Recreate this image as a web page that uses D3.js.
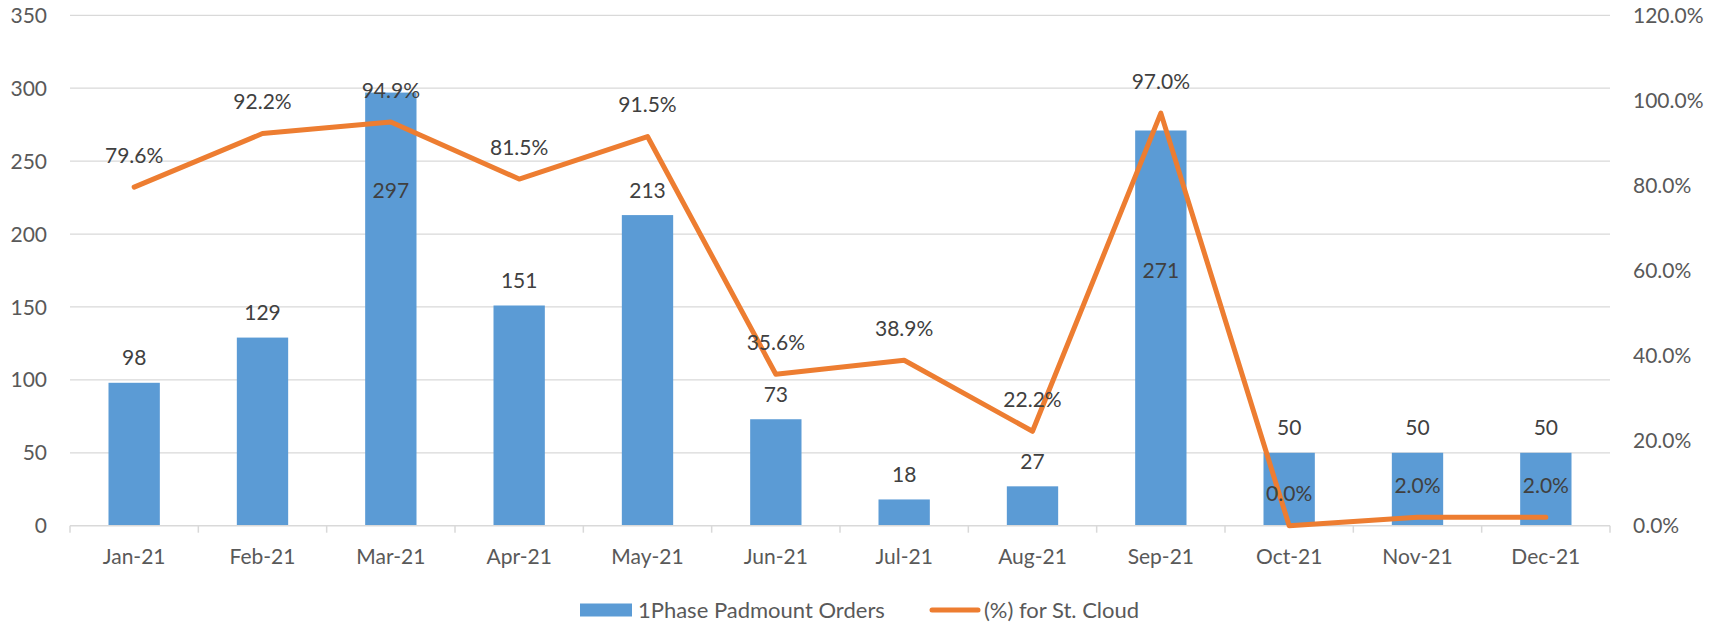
<!DOCTYPE html>
<html>
<head>
<meta charset="utf-8">
<script src="https://cdn.jsdelivr.net/npm/d3@7"></script>
<style>
  html, body { margin: 0; padding: 0; background: #fff; }
  svg { display: block; }
  text { font-family: Lato, "Open Sans", sans-serif; }
</style>
</head>
<body>
<svg id="chart" width="1721" height="623"></svg>
<script>
const categories = ["Jan-21","Feb-21","Mar-21","Apr-21","May-21","Jun-21","Jul-21","Aug-21","Sep-21","Oct-21","Nov-21","Dec-21"];
const orders = [98, 129, 297, 151, 213, 73, 18, 27, 271, 50, 50, 50];
const pctStCloud = [0.796, 0.922, 0.949, 0.815, 0.915, 0.356, 0.389, 0.222, 0.970, 0.000, 0.020, 0.020];
const leftTicks = [0, 50, 100, 150, 200, 250, 300, 350];
const rightTicks = [0, 0.2, 0.4, 0.6, 0.8, 1.0, 1.2];
const seriesNames = ["1Phase Padmount Orders", "(%) for St. Cloud"];

const W = 1721, H = 623;
const plot = { left: 70, right: 1610, top: 15.3, bottom: 525.7 };
const barColor = "#5B9BD5", lineColor = "#ED7D31";
const gridColor = "#D9D9D9", axisText = "#595959", labelText = "#404040";
const fs = 21;

const svg = d3.select("#chart");

const x = d3.scaleBand().domain(categories).range([plot.left, plot.right])
  .paddingInner(0.6).paddingOuter(0.3);
const xc = d => x(d) + x.bandwidth() / 2;
const yL = d3.scaleLinear().domain([0, 350]).range([plot.bottom, plot.top]);
const yR = d3.scaleLinear().domain([0, 1.2]).range([plot.bottom, plot.top]);

// gridlines
svg.append("g").selectAll("line").data(leftTicks.filter(t => t > 0)).join("line")
  .attr("x1", plot.left).attr("x2", plot.right)
  .attr("y1", d => yL(d)).attr("y2", d => yL(d))
  .attr("stroke", gridColor).attr("stroke-width", 1.3);

// left axis labels
svg.append("g").selectAll("text").data(leftTicks).join("text")
  .attr("x", 47).attr("y", d => yL(d)).attr("dy", "0.36em")
  .attr("text-anchor", "end").attr("font-size", fs).attr("fill", axisText)
  .text(d => d3.format("d")(d));

// right axis labels
svg.append("g").selectAll("text").data(rightTicks).join("text")
  .attr("x", 1633).attr("y", d => yR(d)).attr("dy", "0.36em")
  .attr("text-anchor", "start").attr("font-size", fs).attr("fill", axisText)
  .text(d => d3.format(".1%")(d));

// bars
svg.append("g").selectAll("rect").data(orders).join("rect")
  .attr("x", (d, i) => x(categories[i]))
  .attr("width", x.bandwidth())
  .attr("y", d => yL(d))
  .attr("height", d => yL(0) - yL(d))
  .attr("fill", barColor);

// x axis line and ticks
const xAxis = svg.append("g");
xAxis.append("line").attr("x1", plot.left).attr("x2", plot.right)
  .attr("y1", plot.bottom).attr("y2", plot.bottom)
  .attr("stroke", gridColor).attr("stroke-width", 1.5);
const tickXs = categories.map(c => x(c) - x.step() * x.paddingInner() / 2).concat([plot.right]);
xAxis.selectAll("line.tick").data(tickXs).join("line").attr("class", "tick")
  .attr("x1", d => d).attr("x2", d => d)
  .attr("y1", plot.bottom).attr("y2", plot.bottom + 7)
  .attr("stroke", gridColor).attr("stroke-width", 1.5);
xAxis.selectAll("text").data(categories).join("text")
  .attr("x", d => xc(d)).attr("y", 564)
  .attr("text-anchor", "middle").attr("font-size", fs).attr("fill", axisText)
  .text(d => d);

// line
const line = d3.line().x((d, i) => xc(categories[i])).y(d => yR(d));
svg.append("path").datum(pctStCloud)
  .attr("d", line).attr("fill", "none")
  .attr("stroke", lineColor).attr("stroke-width", 5)
  .attr("stroke-linejoin", "round").attr("stroke-linecap", "round");

// bar labels (two labels were dragged inside their bars in the original)
const insideLabel = { "Mar-21": 230, "Sep-21": 175 };
svg.append("g").selectAll("text").data(orders).join("text")
  .attr("x", (d, i) => xc(categories[i]))
  .attr("y", (d, i) => {
    const c = categories[i];
    return c in insideLabel ? yL(insideLabel[c]) : yL(d) - 25;
  })
  .attr("dy", "0.36em")
  .attr("text-anchor", "middle").attr("font-size", fs).attr("fill", labelText)
  .text(d => d);

// line labels
svg.append("g").selectAll("text").data(pctStCloud).join("text")
  .attr("x", (d, i) => xc(categories[i]))
  .attr("y", d => yR(d) - 32)
  .attr("dy", "0.36em")
  .attr("text-anchor", "middle").attr("font-size", fs).attr("fill", labelText)
  .text(d => d3.format(".1%")(d));

// legend
const lfs = 22;
const lg = svg.append("g");
lg.append("rect").attr("x", 580).attr("y", 603.5).attr("width", 52).attr("height", 13).attr("fill", barColor);
lg.append("text").attr("x", 638).attr("y", 610).attr("dy", "0.36em")
  .attr("font-size", lfs).attr("fill", axisText).text(seriesNames[0]);
lg.append("line").attr("x1", 932).attr("x2", 978).attr("y1", 610).attr("y2", 610)
  .attr("stroke", lineColor).attr("stroke-width", 5).attr("stroke-linecap", "round");
lg.append("text").attr("x", 984).attr("y", 610).attr("dy", "0.36em")
  .attr("font-size", lfs).attr("fill", axisText).text(seriesNames[1]);
</script>
</body>
</html>
